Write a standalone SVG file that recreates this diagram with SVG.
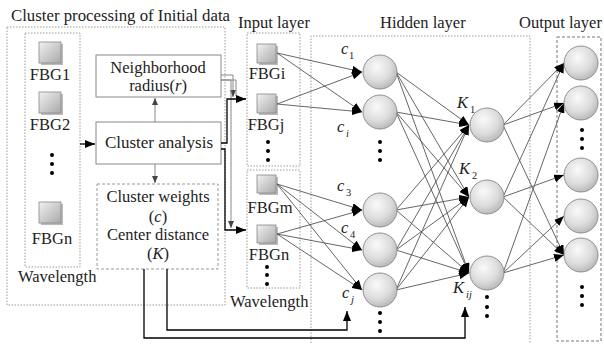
<svg xmlns="http://www.w3.org/2000/svg" width="604" height="344" viewBox="0 0 604 344">
<style>
text{font-family:"Liberation Serif","DejaVu Serif",serif;fill:#222}
.t{font-size:16.5px}
.ti{font-style:italic;font-size:16.5px}
.sb{font-style:italic;font-size:10.5px}
.sbn{font-size:10.5px}
.dot{fill:none;stroke:#9a9a9a;stroke-width:1;stroke-dasharray:1.5 1.5}
.dash{fill:none;stroke:#777;stroke-width:1;stroke-dasharray:3 2}
.sq{fill:url(#gs);stroke:#888;stroke-width:0.8}
.sh{fill:#bbb}
.cir{fill:url(#gc);stroke:#888;stroke-width:0.9}
.lk{stroke:#555;stroke-width:0.9;fill:none;marker-end:url(#ah)}
.blk{stroke:#000;stroke-width:1.3;fill:none}
.gry{stroke:#888;stroke-width:1;fill:none}
.d{fill:#000}
</style>
<defs>
<linearGradient id="gs" x1="0" y1="0" x2="1" y2="1">
<stop offset="0" stop-color="#f2f2f2"/><stop offset="1" stop-color="#a8a8a8"/>
</linearGradient>
<radialGradient id="gc" cx="0.4" cy="0.35" r="0.7">
<stop offset="0" stop-color="#fafafa"/><stop offset="0.6" stop-color="#dcdcdc"/><stop offset="1" stop-color="#b5b5b5"/>
</radialGradient>
<marker id="ah" markerWidth="10" markerHeight="8" refX="10" refY="4" orient="auto" markerUnits="userSpaceOnUse">
<path d="M0,0 L10,4 L0,8 z" fill="#000"/>
</marker>
<marker id="as" markerWidth="7" markerHeight="6" refX="7" refY="3" orient="auto" markerUnits="userSpaceOnUse">
<path d="M0,0 L7,3 L0,6 z" fill="#444"/>
</marker>
</defs>

<g id="cluster-frame">
<text class="t" x="11" y="21" style="font-size:16.8px">Cluster processing of Initial data</text>
<rect class="dot" x="7" y="27" width="218" height="278"/>
</g>
<g id="wavelength-column">
<rect class="dot" x="25" y="33" width="55" height="234"/>
<rect class="sh" x="41" y="44" width="22" height="21"/><rect class="sq" x="39" y="42" width="22" height="21"/>
<text class="t" x="50" y="80" text-anchor="middle">FBG1</text>
<rect class="sh" x="41" y="94" width="22" height="21"/><rect class="sq" x="39" y="92" width="22" height="21"/>
<text class="t" x="50" y="130" text-anchor="middle">FBG2</text>
<circle class="d" cx="52" cy="155" r="2"/><circle class="d" cx="52" cy="164" r="2"/><circle class="d" cx="52" cy="173" r="2"/>
<rect class="sh" x="41" y="204" width="22" height="21"/><rect class="sq" x="39" y="202" width="22" height="21"/>
<text class="t" x="52" y="244" text-anchor="middle">FBGn</text>
<text class="t" x="18" y="282">Wavelength</text>
</g>
<g id="neighborhood">
<rect x="96" y="55" width="125" height="42" fill="#fff" stroke="#888" stroke-width="1"/>
<text class="t" x="158" y="73" text-anchor="middle">Neighborhood</text>
<text class="t" x="158" y="91" text-anchor="middle">radius(<tspan style="font-style:italic">r</tspan>)</text>
</g>
<g id="cluster-analysis">
<rect x="96" y="122" width="125" height="42" fill="#fff" stroke="#888" stroke-width="1"/>
<text class="t" x="159" y="148" text-anchor="middle" style="font-size:17px">Cluster analysis</text>
</g>
<g id="cluster-weights">
<rect x="97" y="184" width="121" height="85" fill="none" stroke="#999" stroke-width="1" stroke-dasharray="3 2"/>
<text class="t" x="158" y="202" text-anchor="middle">Cluster weights</text>
<text class="t" x="158" y="222" text-anchor="middle">(<tspan style="font-style:italic">c</tspan>)</text>
<text class="t" x="158" y="240" text-anchor="middle">Center distance</text>
<text class="t" x="158" y="259" text-anchor="middle">(<tspan style="font-style:italic">K</tspan>)</text>
</g>

<g id="input-layer">
<text class="t" x="238" y="28">Input layer</text>
<rect class="dot" x="247" y="33" width="53" height="133"/>
<rect class="dot" x="247" y="170" width="53" height="118"/>
<rect class="sh" x="259" y="46" width="19" height="19"/><rect class="sq" x="257" y="44" width="19" height="19"/>
<text class="t" x="267" y="79" text-anchor="middle">FBGi</text>
<rect class="sh" x="259" y="96" width="19" height="19"/><rect class="sq" x="257" y="94" width="19" height="19"/>
<text class="t" x="266" y="130" text-anchor="middle">FBGj</text>
<circle class="d" cx="268" cy="142" r="2"/><circle class="d" cx="268" cy="151" r="2"/><circle class="d" cx="268" cy="160" r="2"/>
<rect class="sh" x="259" y="177" width="19" height="18"/><rect class="sq" x="257" y="175" width="19" height="18"/>
<text class="t" x="270" y="213" text-anchor="middle">FBGm</text>
<rect class="sh" x="259" y="227" width="19" height="18"/><rect class="sq" x="257" y="225" width="19" height="18"/>
<text class="t" x="269" y="260" text-anchor="middle">FBGn</text>
<circle class="d" cx="267" cy="267" r="2"/><circle class="d" cx="267" cy="275" r="2"/><circle class="d" cx="267" cy="284" r="2"/>
<text class="t" x="230" y="307">Wavelength</text>
</g>

<g id="hidden-layer">
<text class="t" x="380" y="28">Hidden layer</text>
<path class="dot" d="M311,346 V36 H530 V346"/>
</g>
<g id="output-layer">
<text class="t" x="519" y="28">Output layer</text>
<rect class="dash" x="557" y="37" width="44" height="304"/>
</g>

<g id="connectors">
<line class="gry" x1="155" y1="122" x2="155" y2="98" marker-end="url(#as)"/>
<line class="gry" x1="155" y1="164" x2="155" y2="183" marker-end="url(#as)"/>
<line class="blk" x1="80" y1="144" x2="95" y2="144" marker-end="url(#ah)"/>
<path class="gry" d="M221,75 H233 V97" marker-end="url(#as)"/>
<path class="gry" d="M221,80 H236 V96"/>
<path class="gry" d="M221,80 H231 V228" marker-end="url(#as)"/>
<path class="blk" d="M221,143 H227 V99 H246" marker-end="url(#ah)"/>
<path class="blk" d="M221,149 H225 V230 H246" marker-end="url(#ah)"/>
<path class="blk" d="M167,269 V330 H347 V311" marker-end="url(#ah)"/>
<path class="blk" d="M144,269 V338 H465 V307" marker-end="url(#ah)"/>

<line class="lk" x1="277" y1="53" x2="362" y2="72"/>
<line class="lk" x1="277" y1="53" x2="362" y2="112"/>
<line class="lk" x1="277" y1="104" x2="362" y2="72"/>
<line class="lk" x1="277" y1="104" x2="362" y2="112"/>
<line class="lk" x1="277" y1="184" x2="362" y2="210"/>
<line class="lk" x1="277" y1="184" x2="362" y2="250"/>
<line class="lk" x1="277" y1="184" x2="362" y2="290"/>
<line class="lk" x1="277" y1="234" x2="362" y2="210"/>
<line class="lk" x1="277" y1="234" x2="362" y2="250"/>
<line class="lk" x1="277" y1="234" x2="362" y2="290"/>

<line class="lk" x1="396" y1="72" x2="469" y2="125"/>
<line class="lk" x1="396" y1="72" x2="469" y2="197"/>
<line class="lk" x1="396" y1="72" x2="469" y2="273"/>
<line class="lk" x1="396" y1="112" x2="469" y2="125"/>
<line class="lk" x1="396" y1="112" x2="469" y2="197"/>
<line class="lk" x1="396" y1="112" x2="469" y2="273"/>
<line class="lk" x1="396" y1="210" x2="469" y2="125"/>
<line class="lk" x1="396" y1="210" x2="469" y2="197"/>
<line class="lk" x1="396" y1="210" x2="469" y2="273"/>
<line class="lk" x1="396" y1="250" x2="469" y2="125"/>
<line class="lk" x1="396" y1="250" x2="469" y2="197"/>
<line class="lk" x1="396" y1="250" x2="469" y2="273"/>
<line class="lk" x1="396" y1="290" x2="469" y2="125"/>
<line class="lk" x1="396" y1="290" x2="469" y2="197"/>
<line class="lk" x1="396" y1="290" x2="469" y2="273"/>

<line class="lk" x1="503" y1="125" x2="564" y2="63"/>
<line class="lk" x1="503" y1="125" x2="564" y2="103"/>
<line class="lk" x1="503" y1="125" x2="564" y2="255"/>
<line class="lk" x1="503" y1="197" x2="564" y2="63"/>
<line class="lk" x1="503" y1="197" x2="564" y2="175"/>
<line class="lk" x1="503" y1="197" x2="564" y2="255"/>
<line class="lk" x1="503" y1="273" x2="564" y2="103"/>
<line class="lk" x1="503" y1="273" x2="564" y2="216"/>
<line class="lk" x1="503" y1="273" x2="564" y2="255"/>
</g>

<g id="c1"><circle class="cir" cx="380" cy="72" r="17"/>
<text class="ti" x="341" y="54">c</text><text class="sbn" x="349" y="59">1</text></g>
<g id="ci"><circle class="cir" cx="380" cy="112" r="17"/>
<text class="ti" x="337" y="132">c</text><text class="sb" x="346" y="137">i</text></g>
<g id="hidden-dots-1"><circle class="d" cx="380" cy="142" r="2"/><circle class="d" cx="380" cy="151" r="2"/><circle class="d" cx="380" cy="160" r="2"/></g>
<g id="c3"><circle class="cir" cx="380" cy="210" r="17"/>
<text class="ti" x="337" y="191">c</text><text class="sbn" x="346" y="196">3</text></g>
<g id="c4"><circle class="cir" cx="380" cy="250" r="17"/>
<text class="ti" x="341" y="233">c</text><text class="sbn" x="350" y="238">4</text></g>
<g id="cj"><circle class="cir" cx="380" cy="290" r="17"/>
<text class="ti" x="342" y="298">c</text><text class="sb" x="351" y="303">j</text></g>
<g id="hidden-dots-2"><circle class="d" cx="380" cy="313" r="2"/><circle class="d" cx="380" cy="322" r="2"/><circle class="d" cx="380" cy="331" r="2"/></g>

<g id="K1"><circle class="cir" cx="487" cy="125" r="17"/>
<text class="ti" x="457" y="108">K</text><text class="sbn" x="470" y="113">1</text></g>
<g id="K2"><circle class="cir" cx="487" cy="197" r="17"/>
<text class="ti" x="459" y="174">K</text><text class="sbn" x="472" y="179">2</text></g>
<g id="Kij"><circle class="cir" cx="487" cy="273" r="17"/>
<text class="ti" x="453" y="293">K</text><text class="sb" x="466" y="298">ij</text></g>
<g id="K-dots"><circle class="d" cx="487" cy="297" r="2"/><circle class="d" cx="487" cy="307" r="2"/><circle class="d" cx="487" cy="316" r="2"/></g>

<g id="o1"><circle class="cir" cx="581" cy="63" r="17"/></g>
<g id="o2"><circle class="cir" cx="581" cy="103" r="17"/></g>
<g id="o-dots-1"><circle class="d" cx="582" cy="130" r="2"/><circle class="d" cx="582" cy="139" r="2"/><circle class="d" cx="582" cy="148" r="2"/></g>
<g id="o3"><circle class="cir" cx="581" cy="175" r="17"/></g>
<g id="o4"><circle class="cir" cx="581" cy="216" r="17"/></g>
<g id="o5"><circle class="cir" cx="581" cy="255" r="17"/></g>
<g id="o-dots-2"><circle class="d" cx="582" cy="287" r="2"/><circle class="d" cx="582" cy="296" r="2"/><circle class="d" cx="582" cy="305" r="2"/></g>
</svg>
